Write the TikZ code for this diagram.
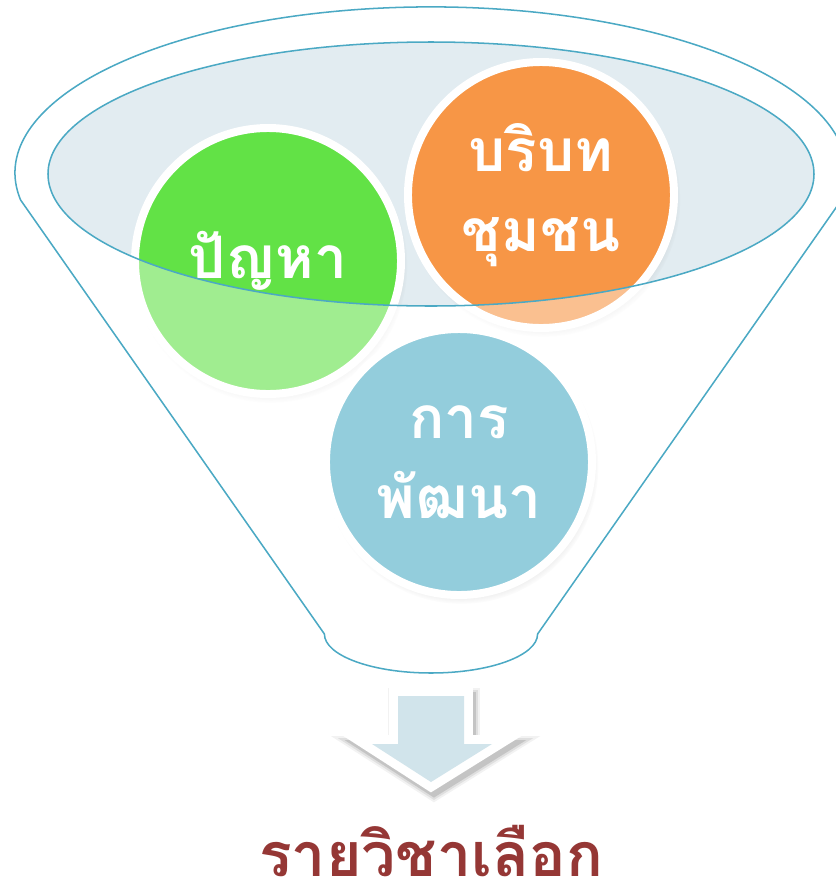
\documentclass[tikz,border=0pt]{standalone}
\usepackage{fontspec}
\usepackage{xcolor}
\usetikzlibrary{shadows, fadings}
\newfontfamily\thaifont[Script=Thai]{Loma}
\definecolor{funnelteal}{HTML}{4BA9C4}
\definecolor{liquidgray}{HTML}{E2ECF1}
\definecolor{bubblegreen}{HTML}{62E246}
\definecolor{bubbleorange}{HTML}{F79646}
\definecolor{bubbleblue}{HTML}{93CDDC}
\definecolor{arrowblue}{HTML}{D1E4EB}
\definecolor{titlered}{HTML}{953735}
\newcommand\funnelpath{(20.6,200) arc[start angle=170.6, end angle=369.4, x radius=416, y radius=166]
  -- (537.6,634) arc[start angle=0, end angle=180, x radius=106.6, y radius=39] -- cycle}
\newcommand\arrowpath{(398,696) -- (464,696) -- (464,744) -- (492,744) -- (431,782) -- (372,744) -- (398,744) -- cycle}
\tikzset{
  bubble/.style={circle, draw=white, line width=6.8pt, minimum size=7.98cm, inner sep=0pt,
    text=white, align=center, font=\thaifont\bfseries\fontsize{50}{68}\selectfont,
    circular drop shadow={shadow scale=1.03, shadow xshift=2pt, shadow yshift=-4pt, opacity=0.35}},
  funnelline/.style={draw=funnelteal, line width=1.3pt}
}
\begin{document}
\begin{tikzpicture}[x=0.03cm, y=-0.03cm]
  \clip (0,0) rectangle (836,885);
  % liquid surface
  \fill[liquidgray] (431,174) ellipse[x radius=383, y radius=132];
  % bubbles in the funnel
  \node[bubble, fill=bubblegreen] (problem) at (268,261) {ปัญหา};
  \node[bubble, fill=bubbleorange] (context) at (541,195) {บริบท\\ชุมชน};
  % funnel glass over the bubbles
  \fill[white, opacity=0.4, even odd rule] \funnelpath (431,174) ellipse[x radius=383, y radius=132];
  \draw[funnelline] (431,174) ellipse[x radius=383, y radius=132];
  \draw[funnelline] \funnelpath;
  % bubble in front
  \node[bubble, fill=bubbleblue] (develop) at (459,462) {การ\\พัฒนา};
  % arrow down
  \foreach \w/\o in {26/0.05, 22/0.08, 18/0.12}
    \draw[black, opacity=\o, line width=\w*0.85pt, xshift=3*0.03cm, yshift=-5*0.03cm] \arrowpath;
  \draw[white, line width=15pt] \arrowpath;
  \fill[arrowblue] \arrowpath;
  % result
  \node[font=\thaifont\bfseries\fontsize{52}{60}\selectfont, text=titlered, anchor=base, inner sep=0pt] (elective) at (431,876) {\raisebox{0pt}[\height][0pt]{รายวิชาเลือก}};
\end{tikzpicture}
\end{document}
